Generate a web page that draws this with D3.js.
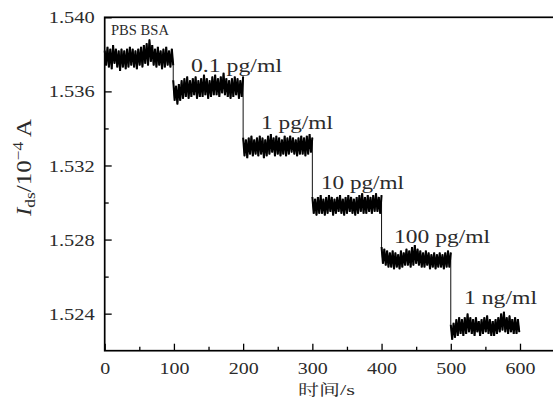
<!DOCTYPE html>
<html>
<head>
<meta charset="utf-8">
<script src="https://cdn.jsdelivr.net/npm/d3@7"></script>
<style>
  html, body { margin: 0; padding: 0; background: #fff; }
  svg { display: block; }
</style>
</head>
<body>
<svg id="chart" width="553" height="408"></svg>
<script>
// ---------------- data (I_ds in units of 1e-4 A, time in s) ----------------
const stepTimes = [0, 99, 200, 300, 400, 500, 599];
const concLabels = ["PBS BSA", "0.1 pg/ml", "1 pg/ml", "10 pg/ml", "100 pg/ml", "1 ng/ml"];
const xTickValues = [0, 100, 200, 300, 400, 500, 600];
const yTickValues = [1.524, 1.528, 1.532, 1.536, 1.540];

const seg1 = [1.5382,1.5374,1.5384,1.5373,1.5383,1.5372,1.5385,1.5375,1.5383,1.5373,
  1.5382,1.5371,1.5383,1.5373,1.5382,1.5372,1.5383,1.5373,1.5384,1.5374,
  1.5383,1.5373,1.5382,1.5372,1.5383,1.5374,1.5384,1.5373,1.5385,1.5375,
  1.5386,1.5374,1.5388,1.5376,1.5385,1.5374,1.5383,1.5373,1.5384,1.5374,
  1.5382,1.5372,1.5383,1.5373,1.5384,1.5374,1.5382,1.5373,1.5383,1.5374];
const seg2 = [1.5366,1.5355,1.5363,1.5353,1.5364,1.5355,1.5366,1.5356,1.5367,1.5357,
  1.5368,1.5356,1.5366,1.5357,1.5367,1.5358,1.5368,1.5356,1.5366,1.5357,
  1.5367,1.5357,1.5369,1.5358,1.5367,1.5356,1.5366,1.5357,1.5368,1.5358,
  1.5369,1.5358,1.5367,1.5357,1.5368,1.5359,1.5370,1.5358,1.5367,1.5357,
  1.5366,1.5356,1.5367,1.5357,1.5368,1.5358,1.5367,1.5356,1.5366,1.5357,1.5368];
const seg3 = [1.5335,1.5325,1.5334,1.5324,1.5335,1.5326,1.5336,1.5325,1.5334,1.5326,
  1.5335,1.5325,1.5336,1.5326,1.5335,1.5324,1.5334,1.5325,1.5336,1.5326,
  1.5337,1.5327,1.5335,1.5325,1.5336,1.5326,1.5335,1.5325,1.5334,1.5326,
  1.5336,1.5325,1.5335,1.5326,1.5336,1.5327,1.5335,1.5326,1.5334,1.5325,
  1.5335,1.5326,1.5336,1.5326,1.5335,1.5325,1.5336,1.5326,1.5337,1.5327,1.5335];
const seg4 = [1.5303,1.5294,1.5302,1.5293,1.5303,1.5294,1.5304,1.5294,1.5302,1.5293,
  1.5303,1.5294,1.5304,1.5295,1.5303,1.5293,1.5302,1.5294,1.5303,1.5295,
  1.5304,1.5294,1.5302,1.5293,1.5303,1.5294,1.5304,1.5295,1.5303,1.5294,
  1.5302,1.5293,1.5303,1.5294,1.5304,1.5295,1.5305,1.5294,1.5303,1.5294,
  1.5304,1.5295,1.5303,1.5294,1.5304,1.5295,1.5305,1.5295,1.5303,1.5294,1.5304];
const seg5 = [1.5276,1.5267,1.5275,1.5266,1.5274,1.5265,1.5273,1.5265,1.5274,1.5264,
  1.5273,1.5265,1.5272,1.5264,1.5274,1.5265,1.5273,1.5266,1.5275,1.5266,
  1.5274,1.5265,1.5276,1.5266,1.5277,1.5267,1.5275,1.5266,1.5274,1.5265,
  1.5273,1.5265,1.5274,1.5266,1.5273,1.5264,1.5272,1.5265,1.5273,1.5264,
  1.5272,1.5265,1.5273,1.5265,1.5272,1.5264,1.5273,1.5265,1.5274,1.5265,1.5273];
const seg6 = [1.5234,1.5226,1.5235,1.5227,1.5237,1.5228,1.5238,1.5229,1.5237,1.5228,
  1.5238,1.5229,1.5240,1.5230,1.5238,1.5229,1.5237,1.5228,1.5238,1.5230,
  1.5236,1.5228,1.5237,1.5229,1.5238,1.5230,1.5239,1.5229,1.5237,1.5228,
  1.5236,1.5228,1.5237,1.5229,1.5238,1.5230,1.5240,1.5231,1.5241,1.5230,
  1.5238,1.5229,1.5239,1.5230,1.5237,1.5229,1.5238,1.5229,1.5237,1.5230];
const segments = [seg1, seg2, seg3, seg4, seg5, seg6];

// ---------------- layout ----------------
const plot = { left: 104.7, right: 554.6, top: 17.3, bottom: 350.7 };
// annotation positions (pixels): [x, baseline y, width]
const labelLayout = [
  [111, 35, 58], [191, 71.5, 91], [261, 129, 72], [321, 189, 83], [394, 243, 96], [464, 304, 73]
];
const SERIF = "'Liberation Serif'";
const CJK = "'Noto Serif CJK SC'";
const TXT = "#2b2b2b";

const svg = d3.select("#chart");
const x = d3.scaleLinear().domain([0, 650]).range([plot.left, plot.right]);
const y = d3.scaleLinear().domain([1.522, 1.540]).range([plot.bottom, plot.top]);
const line = d3.line().x(d => x(d.t)).y(d => y(d.v));

// ---------------- trace ----------------
const segPoints = segments.map((seg, k) =>
  seg.map((v, i) => ({
    t: stepTimes[k] + i * (stepTimes[k + 1] - stepTimes[k]) / (seg.length - 1),
    v
  })));

// continuous trace (thin, gives the vertical jumps)
svg.append("path")
  .datum(segPoints.flat())
  .attr("fill", "none").attr("stroke", "#111").attr("stroke-width", 1)
  .attr("d", line);
// noisy plateaus (dense)
svg.append("g").selectAll("path")
  .data(segPoints).join("path")
  .attr("fill", "none").attr("stroke", "#000").attr("stroke-width", 2)
  .attr("d", line);

// ---------------- axes ----------------
const tickFont = 17.5;
const gx = svg.append("g").attr("transform", `translate(0,${plot.bottom})`)
  .call(d3.axisBottom(x).tickValues(xTickValues).tickSize(-7).tickPadding(11.3).tickFormat(d3.format("d")));
const gxm = svg.append("g").attr("transform", `translate(0,${plot.bottom})`)
  .call(d3.axisBottom(x).tickValues([50, 150, 250, 350, 450, 550]).tickSize(-4).tickFormat(""));
const gy = svg.append("g").attr("transform", `translate(${plot.left},0)`)
  .call(d3.axisLeft(y).tickValues(yTickValues).tickSize(-7).tickPadding(10).tickFormat(d3.format(".3f")));
const gym = svg.append("g").attr("transform", `translate(${plot.left},0)`)
  .call(d3.axisLeft(y).tickValues([1.526, 1.530, 1.534, 1.538]).tickSize(-4).tickFormat(""));

[gx, gxm, gy, gym].forEach(g => {
  g.select(".domain").remove();
  g.selectAll("line").attr("stroke", "#000").attr("stroke-width", 1.3);
  g.selectAll("text").style("font-family", SERIF).attr("font-size", tickFont).attr("fill", TXT);
});
gx.selectAll("text")
  .attr("textLength", d => d === 0 ? 10 : 30).attr("lengthAdjust", "spacingAndGlyphs");
gy.selectAll("text")
  .attr("textLength", 46).attr("lengthAdjust", "spacingAndGlyphs");

// frame
svg.append("rect")
  .attr("x", plot.left).attr("y", plot.top)
  .attr("width", plot.right - plot.left).attr("height", plot.bottom - plot.top)
  .attr("fill", "none").attr("stroke", "#000").attr("stroke-width", 1.7);

// ---------------- annotations ----------------
concLabels.forEach((lab, i) => {
  const [lx, ly, lw] = labelLayout[i];
  svg.append("text")
    .attr("x", lx).attr("y", ly)
    .style("font-family", SERIF).attr("fill", TXT)
    .attr("font-size", i === 0 ? 14.5 : 18)
    .attr("textLength", lw).attr("lengthAdjust", "spacingAndGlyphs")
    .text(lab);
});

// x label
const xl = svg.append("text")
  .attr("x", 326.5).attr("y", 394.5)
  .attr("text-anchor", "middle").attr("fill", TXT)
  .attr("font-size", 14.5)
  .attr("textLength", 57).attr("lengthAdjust", "spacingAndGlyphs");
xl.append("tspan").style("font-family", CJK).text("时间");
xl.append("tspan").style("font-family", SERIF).attr("font-size", 15.5).text("/s");

// y label
const yl = svg.append("text")
  .attr("transform", "translate(31,216) scale(1.15,1) rotate(-90)")
  .style("font-family", SERIF).attr("fill", TXT)
  .attr("font-size", 18)
  .attr("textLength", 97).attr("lengthAdjust", "spacingAndGlyphs");
yl.append("tspan").attr("font-style", "italic").text("I");
yl.append("tspan").attr("font-size", 12.5).attr("dy", 3.5).text("ds");
yl.append("tspan").attr("dy", -3.5).text("/10");
yl.append("tspan").attr("font-size", 12.5).attr("dy", -7).text("−4");
yl.append("tspan").attr("dy", 7).text(" A");
</script>
</body>
</html>
